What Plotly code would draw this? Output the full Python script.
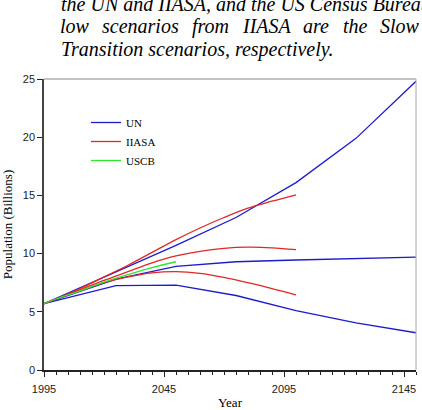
import plotly.graph_objects as go

# ---- data ----
un_years = [1995, 2025, 2050, 2075, 2100, 2125, 2150]
un_high = [5.7, 8.4, 10.7, 13.1, 16.1, 19.9, 24.8]
un_med = [5.7, 7.8, 8.9, 9.3, 9.45, 9.55, 9.7]
un_low = [5.7, 7.25, 7.3, 6.4, 5.1, 4.05, 3.2]

iiasa_years = [1995, 2000, 2010, 2020, 2030, 2040, 2050, 2060, 2070, 2080, 2090, 2100]
iiasa_high = [5.7, 6.1, 7.0, 8.0, 9.0, 10.1, 11.2, 12.2, 13.1, 13.9, 14.5, 15.05]
iiasa_mid = [5.7, 6.1, 6.9, 7.7, 8.45, 9.2, 9.8, 10.2, 10.45, 10.55, 10.5, 10.35]
iiasa_low = [5.7, 6.1, 6.8, 7.5, 8.0, 8.35, 8.45, 8.3, 7.95, 7.5, 7.0, 6.45]

uscb_years = [1995, 2000, 2010, 2020, 2030, 2040, 2050]
uscb_vals = [5.7, 6.1, 6.8, 7.55, 8.2, 8.8, 9.3]

x_ticks = [1995, 2045, 2095, 2145]
y_ticks = [0, 5, 10, 15, 20, 25]

caption_line1 = "the UN and IIASA, and the US Census Bureau"
caption_line2 = ["low", "scenarios", "from", "IIASA", "are", "the", "Slow"]
caption_line3 = "Transition scenarios, respectively."

BLUE = "#1c1ccc"
RED = "#e42626"
GREEN = "#2ee62e"

W, H = 422, 410
L, R, T, B = 44, 416, 79, 370

fig = go.Figure()

def add(xs, ys, color, name, show, shape="linear"):
    fig.add_trace(go.Scatter(x=xs, y=ys, mode="lines", name=name, legendgroup=name,
                             showlegend=show, line=dict(color=color, width=1.3, shape=shape)))

add(un_years, un_high, BLUE, "UN", True)
add(un_years, un_med, BLUE, "UN", False)
add(un_years, un_low, BLUE, "UN", False)
add(iiasa_years, iiasa_high, RED, "IIASA", True, "spline")
add(iiasa_years, iiasa_mid, RED, "IIASA", False, "spline")
add(iiasa_years, iiasa_low, RED, "IIASA", False, "spline")
add(uscb_years, uscb_vals, GREEN, "USCB", True, "spline")

def px(x):
    return (x - L) / (R - L)

def py(y):
    return (B - y) / (B - T)

serif = "Liberation Serif"
cap_font = dict(family="Liberation Serif, Times New Roman, serif", size=20, color="black", style="italic")
anns = []
anns.append(dict(text=caption_line1, x=px(60), y=py(4), xref="paper", yref="paper",
                 xanchor="left", yanchor="middle", showarrow=False, borderpad=0, font=cap_font))
# justified second line
widths = {"low": 28.9, "scenarios": 76.7, "from": 37.8, "IIASA": 47.8, "are": 26.7, "the": 24.4, "Slow": 38.9}
total = sum(widths[w] for w in caption_line2)
gap = (418 - 59 - total) / (len(caption_line2) - 1)
xpos = 59
for w in caption_line2:
    anns.append(dict(text=w, x=px(xpos), y=py(26.5), xref="paper", yref="paper",
                     xanchor="left", yanchor="middle", showarrow=False, borderpad=0, font=cap_font))
    xpos += widths[w] + gap
anns.append(dict(text=caption_line3, x=px(60), y=py(50), xref="paper", yref="paper",
                 xanchor="left", yanchor="middle", showarrow=False, borderpad=0, font=cap_font))

fig.update_layout(
    width=W, height=H,
    margin=dict(l=L, r=W - R, t=T, b=H - B, autoexpand=False),
    paper_bgcolor="white", plot_bgcolor="white",
    showlegend=True,
    legend=dict(x=px(86), y=py(108), xanchor="left", yanchor="top",
                bgcolor="rgba(0,0,0,0)", font=dict(family=serif, size=11, color="black"),
                itemwidth=30, tracegroupgap=0),
    annotations=anns,
    shapes=[
        dict(type="line", xref="paper", yref="paper", x0=0, x1=1, y0=1, y1=1,
             line=dict(color="#888888", width=1)),
        dict(type="line", xref="paper", yref="paper", x0=1, x1=1, y0=0, y1=1,
             line=dict(color="#aaaaaa", width=1)),
    ],
)

fig.update_xaxes(
    range=[1995, 2150], tickmode="array", tickvals=x_ticks, ticktext=[str(v) for v in x_ticks],
    automargin=False,
    showgrid=False, zeroline=False, showline=True, linecolor="#222222", linewidth=1.5,
    ticks="outside", ticklen=5, tickcolor="#222222", tickwidth=1, ticklabelstandoff=3,
    minor=dict(tickmode="linear", tick0=1995, dtick=5, ticks="outside", ticklen=3,
               tickcolor="#222222", showgrid=False),
    tickfont=dict(family="Liberation Sans", size=11, color="#222222"),
    title=dict(text="Year", font=dict(family=serif, size=13, color="black"), standoff=17),
)
fig.update_yaxes(
    range=[0, 25], tickmode="array", tickvals=y_ticks, automargin=False,
    showgrid=False, zeroline=False, showline=True, linecolor="#444444", linewidth=1.5,
    ticks="outside", ticklen=5, tickcolor="#222222", tickwidth=1,
    tickfont=dict(family="Liberation Sans", size=11, color="#222222"),
    title=dict(text="Population (Billions)", font=dict(family=serif, size=13, color="black"), standoff=9),
)

fig.write_html("out.html")
